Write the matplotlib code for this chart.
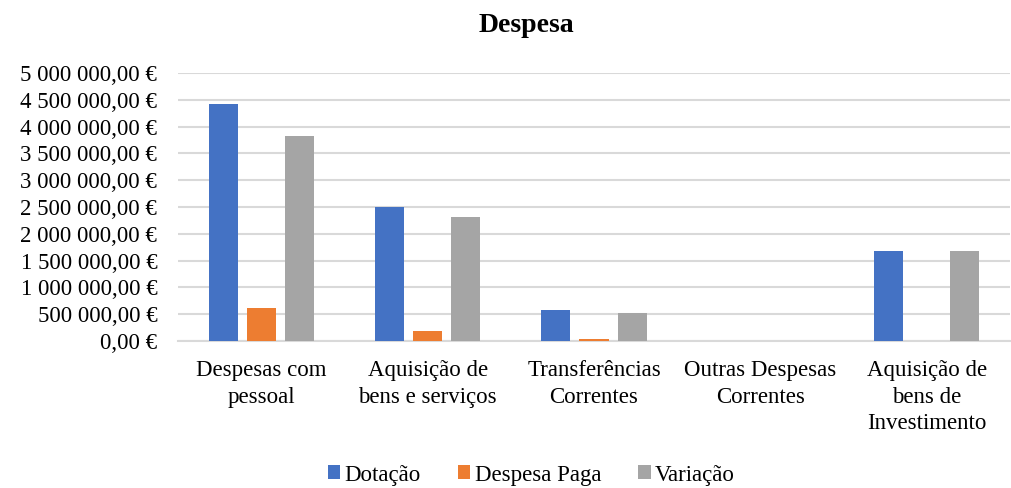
import matplotlib.pyplot as plt
import matplotlib.ticker as mticker
import numpy as np

categories = ['Despesas com\npessoal', 'Aquisição de\nbens e serviços', 'Transferências\nCorrentes',
              'Outras Despesas\nCorrentes', 'Aquisição de\nbens de\nInvestimento']
dotacao = [4430000, 2500000, 580000, 0, 1680000]
despesa_paga = [610000, 190000, 40000, 0, 0]
variacao = [3820000, 2310000, 530000, 0, 1680000]
series = ['Dotação', 'Despesa Paga', 'Variação']
colours = ['#4472C4', '#ED7D31', '#A5A5A5']

plt.rcParams['font.family'] = ['Liberation Serif', 'DejaVu Serif']

fig = plt.figure(figsize=(10.12, 4.88), dpi=100)
ax = fig.add_axes([178/1012, 1 - 341/488, (1010-178)/1012, (341-73)/488])

x = np.arange(len(categories))
w = 0.175
step = 0.229
for i, (vals, name, col) in enumerate(zip([dotacao, despesa_paga, variacao], series, colours)):
    ax.bar(x + (i - 1) * step, vals, width=w, color=col, label=name, zorder=3)

def euro(v, pos):
    s = f'{v:,.2f}'.replace(',', ' ').replace('.', ',')
    return s + ' €'

ax.set_ylim(0, 5000000)
ax.set_xlim(-0.5, len(categories) - 0.5)
ax.yaxis.set_major_locator(mticker.MultipleLocator(500000))
ax.yaxis.set_major_formatter(mticker.FuncFormatter(euro))
ax.grid(axis='y', color='#D9D9D9', linewidth=1.5, zorder=0)
for s in ['top', 'right', 'left']:
    ax.spines[s].set_visible(False)
ax.spines['bottom'].set_color('#D9D9D9')
ax.spines['bottom'].set_linewidth(1.5)
ax.tick_params(axis='both', length=0, labelsize=16.5, colors='#000000')
ax.tick_params(axis='y', pad=15)
ax.tick_params(axis='x', pad=14)
ax.set_xticks(x)
ax.set_xticklabels(categories, linespacing=1.32)

fig.text(0.52, 1 - 26/488, 'Despesa', ha='center', va='center', fontsize=20, fontweight='bold')
fig.legend(loc='center', bbox_to_anchor=(0.525, 1 - 475/488), ncol=3, frameon=False,
           fontsize=16.5, handlelength=0.55, handleheight=0.55, handletextpad=0.2, columnspacing=1.6)

fig.savefig('out.png', dpi=100)
